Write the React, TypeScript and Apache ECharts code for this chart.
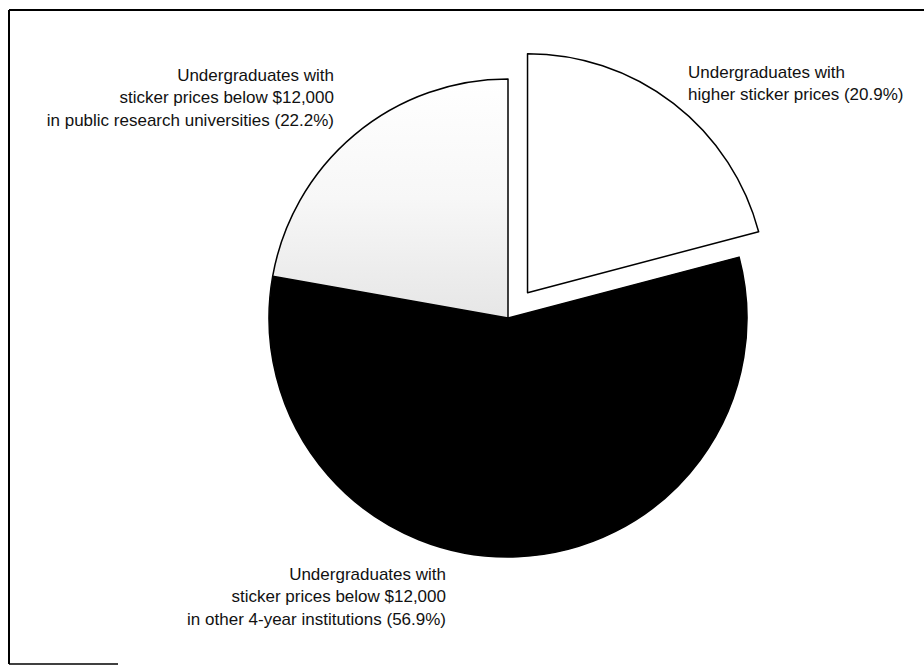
import React, { useEffect, useRef } from 'react';
import * as echarts from 'echarts';

const categories = [
  'Higher sticker prices',
  'Below $12,000 in other 4-year institutions',
  'Below $12,000 in public research universities',
];
const shares = [20.9, 56.9, 22.2];
const labelTexts = [
  ['Undergraduates with', 'higher sticker prices (20.9%)'],
  ['Undergraduates with', 'sticker prices below $12,000', 'in other 4-year institutions (56.9%)'],
  ['Undergraduates with', 'sticker prices below $12,000', 'in public research universities (22.2%)'],
];

const FONT = '"Liberation Sans", "DejaVu Sans", sans-serif';

export default function App() {
  const ref = useRef<HTMLDivElement>(null);
  useEffect(() => {
    if (!ref.current) return;
    const chart = echarts.init(ref.current, undefined, { renderer: 'svg' });
    const fills: any[] = [
      '#ffffff',
      '#000000',
      {
        type: 'linear', x: 0, y: 0, x2: 0, y2: 1,
        colorStops: [
          { offset: 0, color: '#ffffff' },
          { offset: 0.5, color: '#f7f7f7' },
          { offset: 1, color: '#e6e6e6' },
        ],
      },
    ];
    const layouts = [
      { x: 688, y: 61, align: 'left' },
      { x: 446, y: 563, align: 'right' },
      { x: 334, y: 64, align: 'right' },
    ];
    const option: any = {
      animation: false,
      backgroundColor: '#ffffff',
      graphic: [
        { type: 'line', shape: { x1: 9, y1: 10, x2: 924, y2: 10 }, style: { stroke: '#000', lineWidth: 2 } },
        { type: 'line', shape: { x1: 9, y1: 10, x2: 9, y2: 664 }, style: { stroke: '#000', lineWidth: 2 } },
        { type: 'line', shape: { x1: 9, y1: 664, x2: 118, y2: 664 }, style: { stroke: '#000', lineWidth: 1.5 } },
        {
          type: 'text',
          x: layouts[0].x,
          y: layouts[0].y,
          style: {
            text: labelTexts[0].join('\n'),
            fill: '#111',
            fontFamily: FONT,
            fontSize: 17,
            lineHeight: 22.5,
            textAlign: 'left',
            textVerticalAlign: 'top',
          },
        },
      ],
      series: [
        {
          type: 'pie',
          center: [508, 318],
          radius: [0, 239],
          startAngle: 90,
          clockwise: true,
          selectedMode: 'single',
          selectedOffset: 32,
          avoidLabelOverlap: false,
          emphasis: { disabled: true },
          labelLine: { show: false },
          label: {
            show: true,
            color: '#111',
            fontFamily: FONT,
            fontSize: 17,
            lineHeight: 22.5,
            formatter: (p: any) => labelTexts[p.dataIndex].join('\n'),
          },
          labelLayout: (p: any) => ({
            x: layouts[p.dataIndex].x,
            y: layouts[p.dataIndex].y,
            align: layouts[p.dataIndex].align,
            verticalAlign: 'top',
            hideOverlap: false,
          }),
          data: categories.map((name, i) => ({
            name,
            value: shares[i],
            selected: i === 0,
            label: i === 0 ? { show: false } : undefined,
            itemStyle: { color: fills[i], borderColor: '#000', borderWidth: 1.5 },
            select: { itemStyle: { color: fills[i], borderColor: '#000', borderWidth: 1.5 }, label: i === 0 ? { show: false } : undefined },
          })),
        },
      ],
    };
    chart.setOption(option);
    return () => chart.dispose();
  }, []);
  return (
    <div
      ref={ref}
      style={{ position: 'fixed', left: 0, top: 0, width: 924, height: 665, background: '#fff' }}
    />
  );
}
